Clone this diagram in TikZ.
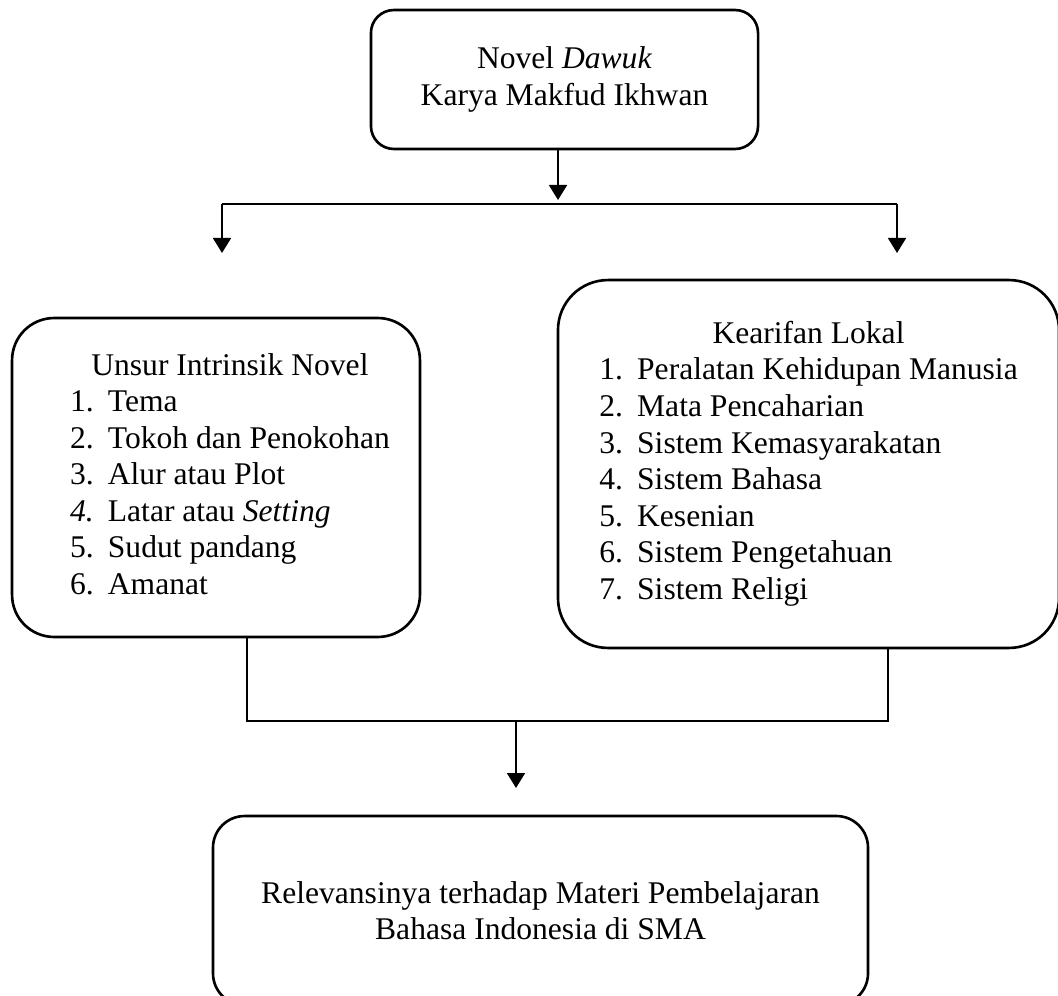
\documentclass[tikz,border=0pt]{standalone}
\usepackage{fontspec}
\setmainfont{Liberation Serif}
\usepackage{tikz}
\usetikzlibrary{arrows.meta}
\definecolor{ink}{HTML}{000000}
\tikzset{px/.style={x=.38pt,y=-.38pt,line width=.8pt,font=\fontsize{12pt}{13.9pt}\selectfont},
  box/.style={draw=ink,line width=1pt,align=center,inner sep=0pt},
  arr/.style={ink,-{Triangle[length=5.7pt,width=6.8pt]}}}
\newcommand{\itm}[1]{\makebox[14.4pt][l]{#1}}

\begin{document}
\begin{tikzpicture}[px]
  \useasboundingbox (0,0) rectangle (1058,995);
  \node[box,rounded corners=8.7pt,minimum width=147.1pt,minimum height=52.8pt] (novel) at (564.5,79.5){Novel \textit{Dawuk}\\Karya Makfud Ikhwan};
  \node[box,rounded corners=16pt,minimum width=155pt,minimum height=121.2pt] (unsur) at (216,477.5){%
    \begin{tabular}{@{\hspace{10.6pt}}l@{}}\multicolumn{1}{@{\hspace{10.6pt}}c@{}}{Unsur Intrinsik Novel}\\
    \itm{1.}Tema\\ \itm{2.}Tokoh dan Penokohan\\ \itm{3.}Alur atau Plot\\ \itm{\textit{4.}}Latar atau \textit{Setting}\\
    \itm{5.}Sudut pandang\\ \itm{6.}Amanat\end{tabular}};
  \node[box,rounded corners=19pt,minimum width=190.4pt,minimum height=139.8pt] (kearifan) at (808.5,464){%
    \begin{tabular}{@{}l@{}}\multicolumn{1}{@{}c@{}}{Kearifan Lokal}\\
    \itm{1.}Peralatan Kehidupan Manusia\\ \itm{2.}Mata Pencaharian\\ \itm{3.}Sistem Kemasyarakatan\\ \itm{4.}Sistem Bahasa\\
    \itm{5.}Kesenian\\ \itm{6.}Sistem Pengetahuan\\ \itm{7.}Sistem Religi\end{tabular}};
  \node[box,rounded corners=12pt,minimum width=248.9pt,minimum height=71.8pt] (relevansi) at (540.5,910.5){Relevansinya terhadap Materi Pembelajaran\\Bahasa Indonesia di SMA};
  % connectors
  \coordinate (split) at (558,200);\coordinate (hL) at (222,204);\coordinate (hR) at (897,204);
  \coordinate (aL) at (222,253);\coordinate (aR) at (897,253);
  \coordinate (jL) at (247,721);\coordinate (jR) at (888,721);\coordinate (jM) at (516,721);\coordinate (aM) at (516,788);
  \draw[arr] (novel.south-|split)--(split);
  \draw (hL)--(hR);\draw[arr] (hL)--(aL);\draw[arr] (hR)--(aR);
  \draw (unsur.south-|jL)--(jL)--(jR)--(kearifan.south-|jR);
  \draw[arr] (jM)--(aM);
\end{tikzpicture}
\end{document}
